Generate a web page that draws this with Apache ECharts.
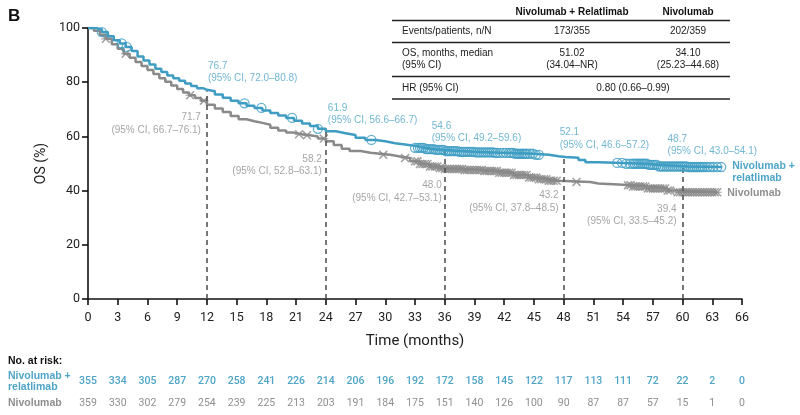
<!DOCTYPE html>
<html><head><meta charset="utf-8">
<script src="https://cdn.jsdelivr.net/npm/echarts/dist/echarts.min.js"></script>
<style>html,body{margin:0;padding:0;background:#fff}#c{width:800px;height:415px}</style>
</head><body><div id="c"></div>
<script>
// ---------- DATA ----------
const blueTime = [0,0.8,1.4,2.0,2.6,3.2,3.8,4.4,5.0,5.6,6.2,6.8,7.4,8.0,8.6,9.2,9.8,10.4,11.0,11.6,12.0,12.8,13.6,14.4,15.2,16.0,16.8,17.6,18.4,19.2,20.0,20.8,21.6,22.4,23.2,24.0,25.0,26.0,27.0,28.0,29.0,30.0,31.0,32.0,33.0,34.0,35.0,36.0,37.5,39.0,41.0,43.0,45.0,46.5,47.5,48.2,49.5,50.2,51.5,54.0,56.5,57.5,60.5,64.0];
const blueSurv = [100,99.5,98.5,97,95.5,94.3,93,91.5,89.5,88,86.5,85,83.8,82.5,81.5,80.5,79.5,78.6,77.8,77.2,76.7,75.5,74.3,73.2,72.2,71.3,70.5,69.6,68.6,67.7,66.8,65.8,64.8,63.8,62.8,61.9,61.2,60.5,59.5,58.7,58.2,57.5,57.0,56.5,55.8,55.3,55.0,54.6,54.3,54.1,53.9,53.6,53.2,52.7,52.4,52.1,51.3,50.5,50.2,49.9,49.5,48.9,48.7,48.7];
const grayTime = [0,0.6,1.2,1.8,2.4,3.0,3.6,4.2,4.8,5.4,6.0,6.6,7.2,7.8,8.4,9.0,9.6,10.2,10.8,11.4,12.0,12.8,13.6,14.4,15.2,16.0,16.8,17.6,18.4,19.2,20.0,20.8,21.6,22.4,23.2,24.0,24.8,25.6,26.4,27.5,28.5,29.5,30.5,31.5,32.5,33.5,34.5,35.5,36.0,38.0,40.0,41.5,43.0,44.5,45.5,46.5,47.5,50.7,51.5,55.0,56.5,58.5,59.5,63.5];
const graySurv = [100,99,97.5,96,94,92.3,90.5,89,87.5,86,84.5,83,81.5,80.2,78.8,77.5,76.2,75.2,74.2,73.2,71.7,70.3,69.0,67.5,66.3,65.6,65.0,64.3,63.2,62.2,61.4,60.8,60.4,60.0,59.2,58.2,56.8,55.4,54.6,54.0,53.6,53.2,52.6,52.0,50.8,49.8,48.9,48.3,48.0,47.6,47.2,46.6,45.8,44.8,44.2,43.6,43.2,42.6,42.0,41.5,40.8,40.0,39.4,39.4];
const blueCensor = [1.4,3.4,3.9,15.8,17.5,20.6,23.2,28.6,
  33.0,33.3,33.5,33.7,33.9,34.1,34.3,34.5,34.7,34.9,35.1,35.3,35.5,35.7,35.9,36.1,36.3,36.5,36.7,36.9,37.1,37.3,37.5,37.7,37.9,38.1,38.3,38.5,38.7,38.9,39.1,39.3,39.5,39.7,39.9,40.1,40.3,40.5,40.7,40.9,41.1,41.3,41.6,41.9,42.2,42.5,42.7,42.9,43.1,43.3,43.5,43.7,43.9,44.1,44.3,44.6,44.9,45.2,45.5,
  53.4,53.9,54.3,54.7,55.0,55.2,55.4,55.6,55.8,56.0,56.2,56.4,56.6,56.8,57.0,57.2,57.4,57.6,57.8,58.0,58.2,58.4,58.6,58.8,59.0,59.2,59.4,59.6,59.8,60.0,60.2,60.4,60.6,60.8,61.0,61.2,61.4,61.6,61.8,62.0,62.2,62.5,62.8,63.1,63.5,63.9];
const grayCensor = [1.8,3.8,10.3,11.7,21.3,22.1,23.8,29.8,32.0,
  33.0,33.25,33.5,33.75,34.0,34.25,34.5,34.75,35.0,35.25,35.5,35.75,36.0,36.25,36.5,36.75,37.0,37.25,37.5,37.75,38.0,38.25,38.5,38.75,39.0,39.25,39.5,39.75,40.0,40.25,40.5,40.75,41.0,41.25,41.5,41.75,42.0,42.25,42.5,42.75,43.0,43.25,43.5,43.75,44.0,44.25,44.5,44.75,45.0,45.25,45.5,45.75,46.0,46.25,46.5,46.75,47.0,47.3,49.3,
  54.5,54.75,55.0,55.25,55.5,55.75,56.0,56.25,56.5,56.75,57.0,57.25,57.5,57.75,58.0,58.25,58.5,58.75,59.5,59.75,60.0,60.25,60.5,60.75,61.0,61.25,61.5,61.75,62.0,62.25,62.5,62.75,63.0,63.25,63.5];
const landmarkTimes = [12,24,36,48,60];
const blueLandmark = [76.7,61.9,54.6,52.1,48.7];
const blueLandmarkCI = ['72.0–80.8','56.6–66.7','49.2–59.6','46.6–57.2','43.0–54.1'];
const grayLandmark = [71.7,58.2,48.0,43.2,39.4];
const grayLandmarkCI = ['66.7–76.1','52.8–63.1','42.7–53.1','37.8–48.5','33.5–45.2'];
const xTicks = [0,3,6,9,12,15,18,21,24,27,30,33,36,39,42,45,48,51,54,57,60,63,66];
const blueRisk = [355,334,305,287,270,258,241,226,214,206,196,192,172,158,145,122,117,113,111,72,22,2,0];
const grayRisk = [359,330,302,279,254,239,225,213,203,191,184,175,151,140,126,100,90,87,87,57,15,1,0];
const tableHeader = ['Nivolumab + Relatlimab','Nivolumab'];
const tableEvents = ['173/355','202/359'];
const tableMedian = ['51.02','34.10'];
const tableMedianCI = ['(34.04–NR)','(25.23–44.68)'];
const tableHR = '0.80 (0.66–0.99)';

// ---------- BUILD ----------
const BLUE = '#3f9dc3', BLUE_T = '#4ea5c7', GRAY = '#8a8a8a', GRAY_T = '#8f8f8f';
const pairs = (t, s) => t.map((v, i) => [v, s[i]]);
function kmAt(T, S, t) { let v = S[0]; for (let i = 0; i < T.length; i++) { if (T[i] <= t) v = S[i]; } return v; }
const asterisk = 'path://M0,1.2L1.2,0L10,8.8L8.8,10Z M8.8,0L10,1.2L1.2,10L0,8.8Z M0,4.4L10,4.4L10,5.6L0,5.6Z';
const FONT = '"Liberation Sans", Arial, sans-serif';
const AX = 'Roboto, sans-serif';

const blueOff = [[1,-3],[2,-1],[-13,-3],[-4,-3],[-15,-6]];
const grayOff = [[-6,3],[-4,8],[-3,7],[-5,4],[-6,7]];

const chart = echarts.init(document.getElementById('c'), null, {renderer: 'canvas'});
const riskAxis = (arr, color, offset, weight) => ({
  type: 'value', min: 0, max: 66, interval: 3, position: 'bottom', offset: offset,
  axisLine: {show: false}, axisTick: {show: false}, splitLine: {show: false},
  axisLabel: {show: true, margin: 12, color: color, fontSize: 10.5, fontFamily: AX, fontWeight: weight,
    showMinLabel: true, showMaxLabel: true,
    formatter: v => { const i = xTicks.indexOf(v); return i >= 0 ? String(arr[i]) : ''; }}
});

const option = {
  animation: false,
  grid: {left: 88, right: 58, top: 28, bottom: 116, containLabel: false},
  xAxis: [
    {type: 'value', min: 0, max: 66, interval: 3,
      axisLine: {show: true, lineStyle: {color: '#111', width: 1.6}},
      axisTick: {show: true, length: 6, lineStyle: {color: '#111', width: 1.6}},
      splitLine: {show: false},
      axisLabel: {margin: 12, color: '#222', fontSize: 12.5, fontFamily: AX, showMinLabel: true, showMaxLabel: true},
      name: 'Time (months)', nameLocation: 'middle', nameGap: 35,
      nameTextStyle: {fontSize: 15, color: '#222', fontFamily: AX}},
    riskAxis(blueRisk, BLUE_T, 65, 500),
    riskAxis(grayRisk, GRAY_T, 87, 400)
  ],
  yAxis: {type: 'value', min: 0, max: 100, interval: 20,
    axisLine: {show: true, lineStyle: {color: '#111', width: 1.6}},
    axisTick: {show: true, length: 6, lineStyle: {color: '#111', width: 1.6}},
    splitLine: {show: false},
    axisLabel: {margin: 8, color: '#222', fontSize: 12.5, fontFamily: AX},
    name: 'OS (%)', nameLocation: 'middle', nameGap: 40,
    nameTextStyle: {fontSize: 14, color: '#222', fontFamily: AX}},
  series: [
    {type: 'line', data: [], z: 1, silent: true,
      markLine: {symbol: 'none', silent: true, label: {show: false},
        lineStyle: {type: [5, 4], color: '#555', width: 1.6},
        data: landmarkTimes.map((t, i) => [{coord: [t, 0]}, {coord: [t, blueLandmark[i]]}])}},
    {name: 'Nivolumab', type: 'line', step: 'end', showSymbol: false, z: 3,
      data: pairs(grayTime, graySurv), lineStyle: {color: GRAY, width: 2.5}, itemStyle: {color: GRAY},
      endLabel: {show: true, formatter: 'Nivolumab', color: GRAY_T, fontWeight: 'bold', fontSize: 10.5, fontFamily: FONT, offset: [2, 1]}},
    {name: 'Nivolumab + relatlimab', type: 'line', step: 'end', showSymbol: false, z: 4,
      data: pairs(blueTime, blueSurv), lineStyle: {color: BLUE, width: 2.5}, itemStyle: {color: BLUE},
      endLabel: {show: true, formatter: 'Nivolumab +\nrelatlimab', color: BLUE_T, fontWeight: 'bold', fontSize: 10.5, lineHeight: 12.5, fontFamily: FONT, offset: [2, 5]}},
    {type: 'scatter', z: 3, symbol: asterisk, symbolSize: 9, itemStyle: {color: GRAY},
      data: grayCensor.map(t => [t, kmAt(grayTime, graySurv, t)])},
    {type: 'scatter', z: 5, symbol: 'circle', symbolSize: 9, itemStyle: {color: 'rgba(0,0,0,0)', borderColor: BLUE, borderWidth: 1.3},
      data: blueCensor.map(t => [t, kmAt(blueTime, blueSurv, t)])},
    {type: 'scatter', z: 6, symbolSize: 1, itemStyle: {color: 'rgba(0,0,0,0)'}, silent: true,
      data: landmarkTimes.map((t, i) => ({value: [t, blueLandmark[i]],
        label: {show: true, position: 'top', align: 'left', verticalAlign: 'bottom', distance: 3, offset: blueOff[i],
          formatter: blueLandmark[i].toFixed(1) + '\n(95% CI, ' + blueLandmarkCI[i] + ')',
          color: BLUE_T, fontSize: 10, lineHeight: 12.5, fontFamily: FONT, fontWeight: 500}}))},
    {type: 'scatter', z: 6, symbolSize: 1, itemStyle: {color: 'rgba(0,0,0,0)'}, silent: true,
      data: landmarkTimes.map((t, i) => ({value: [t, grayLandmark[i]],
        label: {show: true, position: 'bottom', align: 'right', verticalAlign: 'top', distance: 3, offset: grayOff[i],
          formatter: grayLandmark[i].toFixed(1) + '\n(95% CI, ' + grayLandmarkCI[i] + ')',
          color: GRAY_T, fontSize: 10, lineHeight: 12.5, fontFamily: FONT}}))}
  ],
  graphic: (function () {
    const g = [];
    const ts = (x, y, text, opt) => g.push({type: 'text', left: x, top: y, z: 10,
      style: Object.assign({text: text, fill: '#222', font: '9.5px ' + FONT}, opt || {})});
    ts(8, 8, 'B', {font: 'bold 17px ' + FONT, fill: '#111'});
    const line = y => g.push({type: 'line', z: 10, shape: {x1: 392, y1: y, x2: 730, y2: y}, style: {stroke: '#222', lineWidth: 1.6}});
    [20.5, 42.5, 76.5, 99].forEach(line);
    const cx = [572, 688];
    const ct = (x, y, text, opt) => g.push({type: 'text', x: x, y: y, z: 10,
      style: Object.assign({text: text, fill: '#222', font: '10px ' + FONT, align: 'center', verticalAlign: 'middle'}, opt || {})});
    ct(cx[0], 12, tableHeader[0], {font: 'bold 10px ' + FONT, fill: '#111'});
    ct(cx[1], 12, tableHeader[1], {font: 'bold 10px ' + FONT, fill: '#111'});
    ct(402, 31.5, 'Events/patients, n/N', {align: 'left'});
    ct(cx[0], 31.5, tableEvents[0]); ct(cx[1], 31.5, tableEvents[1]);
    ct(402, 53, 'OS, months, median', {align: 'left'});
    ct(402, 65, '(95% CI)', {align: 'left'});
    ct(cx[0], 53, tableMedian[0]); ct(cx[1], 53, tableMedian[1]);
    ct(cx[0], 65, tableMedianCI[0]); ct(cx[1], 65, tableMedianCI[1]);
    ct(402, 88, 'HR (95% CI)', {align: 'left'});
    ct(633, 88, tableHR);
    ct(8, 361, 'No. at risk:', {align: 'left', font: 'bold 10.5px ' + FONT, fill: '#111'});
    ct(8, 376, 'Nivolumab +', {align: 'left', font: 'bold 10.5px ' + FONT, fill: BLUE_T});
    ct(8, 387.5, 'relatlimab', {align: 'left', font: 'bold 10.5px ' + FONT, fill: BLUE_T});
    ct(8, 403, 'Nivolumab', {align: 'left', font: 'bold 10.5px ' + FONT, fill: GRAY_T});
    return g;
  })()
};
chart.setOption(option);
</script></body></html>
